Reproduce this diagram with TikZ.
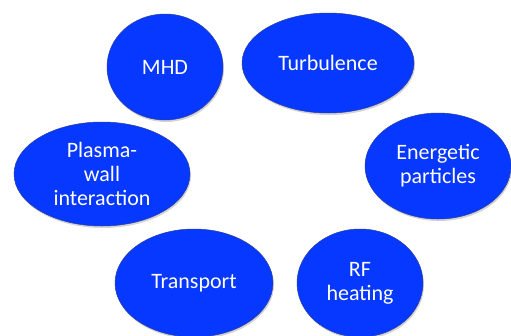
\documentclass[tikz,border=0pt]{standalone}
\usepackage{fontspec}
\setmainfont{Carlito}
\usetikzlibrary{shapes.geometric, shadows}
\definecolor{blobfill}{HTML}{0638FF}
\definecolor{blobborder}{HTML}{2A3F9E}
\tikzset{
  topicblob/.style={
    ellipse,
    draw=blobborder,
    fill=blobfill,
    line width=0.5pt,
    inner sep=0pt,
    align=center,
    text=white,
    font=\fontsize{22}{24}\selectfont,
    drop shadow={shadow xshift=1pt, shadow yshift=-2pt, opacity=0.35}
  }
}
\begin{document}
\begin{tikzpicture}[x=1pt, y=-1pt]
  \useasboundingbox (0,0) rectangle (511,335);

  % Topics
  \node (mhd) [topicblob, minimum width=116pt, minimum height=106pt] at (165,67) {MHD};
  \node (turb) [topicblob, minimum width=172pt, minimum height=100pt] at (328,63) {Turbulence};
  \node (pwi) [topicblob, minimum width=176pt, minimum height=104pt] at (102,174) {Plasma-\\wall\\interaction};
  \node (energ) [topicblob, minimum width=146pt, minimum height=106pt] at (438,166) {Energetic\\particles};
  \node (transp) [topicblob, minimum width=158pt, minimum height=108pt] at (194,283) {Transport};
  \node (rfheat) [topicblob, minimum width=126pt, minimum height=108pt] at (360,283) {RF\\heating};

\end{tikzpicture}
\end{document}
